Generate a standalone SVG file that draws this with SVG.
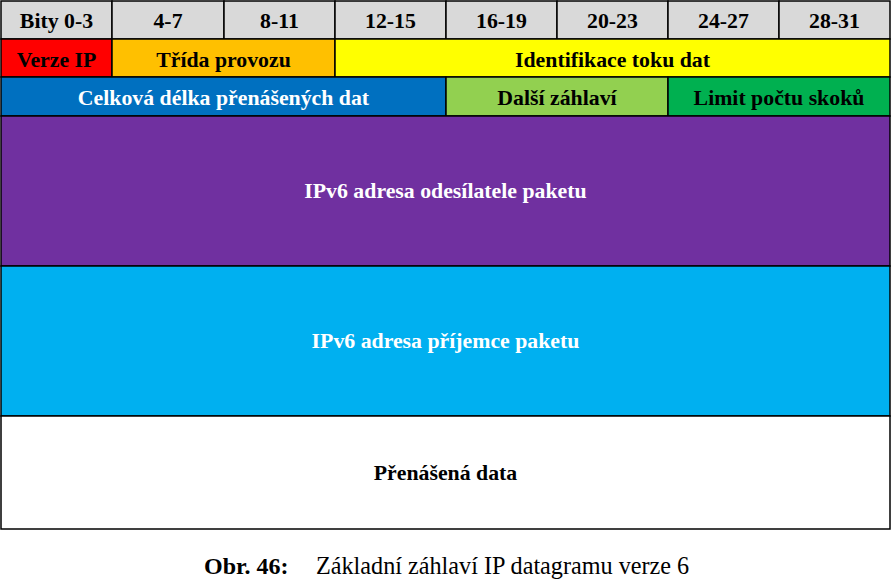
<svg xmlns="http://www.w3.org/2000/svg" width="891" height="582" viewBox="0 0 891 582">
<style>
rect{stroke:#000;stroke-width:1.5}
text{font-family:"Liberation Serif","Times New Roman",serif;font-weight:bold;font-size:21.8px;text-anchor:middle}
.w{fill:#fff}
.k{fill:#000}
.cap{font-size:24px}
</style>
<rect x="0" y="0" width="891" height="582" fill="#fff" style="stroke:none"/>
<g id="header">
<rect x="1" y="1" width="111" height="38" fill="#D9D9D9"/>
<rect x="112" y="1" width="112" height="38" fill="#D9D9D9"/>
<rect x="224" y="1" width="111" height="38" fill="#D9D9D9"/>
<rect x="335" y="1" width="111" height="38" fill="#D9D9D9"/>
<rect x="446" y="1" width="111" height="38" fill="#D9D9D9"/>
<rect x="557" y="1" width="111" height="38" fill="#D9D9D9"/>
<rect x="668" y="1" width="111" height="38" fill="#D9D9D9"/>
<rect x="779" y="1" width="111" height="38" fill="#D9D9D9"/>
<text class="k" x="56.5" y="28">Bity 0-3</text>
<text class="k" x="168" y="28">4-7</text>
<text class="k" x="279.5" y="28">8-11</text>
<text class="k" x="390.5" y="28">12-15</text>
<text class="k" x="501.5" y="28">16-19</text>
<text class="k" x="612.5" y="28">20-23</text>
<text class="k" x="723.5" y="28">24-27</text>
<text class="k" x="834.5" y="28">28-31</text>
</g>
<g id="verze-ip">
<rect x="1" y="39" width="111" height="38" fill="#FF0000"/>
<text class="k" x="56.5" y="66.5">Verze IP</text>
</g>
<g id="trida-provozu">
<rect x="112" y="39" width="223" height="38" fill="#FFC000"/>
<text class="k" x="223.5" y="66.5">Třída provozu</text>
</g>
<g id="identifikace">
<rect x="335" y="39" width="555" height="38" fill="#FFFF00"/>
<text class="k" x="612.5" y="66.5">Identifikace toku dat</text>
</g>
<g id="celkova-delka">
<rect x="1" y="77" width="445" height="39" fill="#0070C0"/>
<text class="w" x="223.5" y="105">Celková délka přenášených dat</text>
</g>
<g id="dalsi-zahlavi">
<rect x="446" y="77" width="222" height="39" fill="#92D050"/>
<text class="k" x="557" y="105">Další záhlaví</text>
</g>
<g id="limit">
<rect x="668" y="77" width="222" height="39" fill="#00B050"/>
<text class="k" x="779" y="105">Limit počtu skoků</text>
</g>
<g id="odesilatel">
<rect x="1" y="116" width="889" height="150" fill="#7030A0"/>
<text class="w" x="445.5" y="198">IPv6 adresa odesílatele paketu</text>
</g>
<g id="prijemce">
<rect x="1" y="266" width="889" height="150" fill="#00B0F0"/>
<text class="w" x="445.5" y="348">IPv6 adresa příjemce paketu</text>
</g>
<g id="data">
<rect x="1" y="416" width="889" height="113" fill="#FFFFFF"/>
<text class="k" x="445.5" y="480">Přenášená data</text>
</g>
<g id="caption">
<text class="k cap" x="204" y="574" style="text-anchor:start">Obr. 46:</text>
<text class="k cap" x="316" y="574" style="text-anchor:start;font-weight:normal;font-size:24.2px">Základní záhlaví IP datagramu verze 6</text>
</g>
<g id="connectors"></g>
</svg>
